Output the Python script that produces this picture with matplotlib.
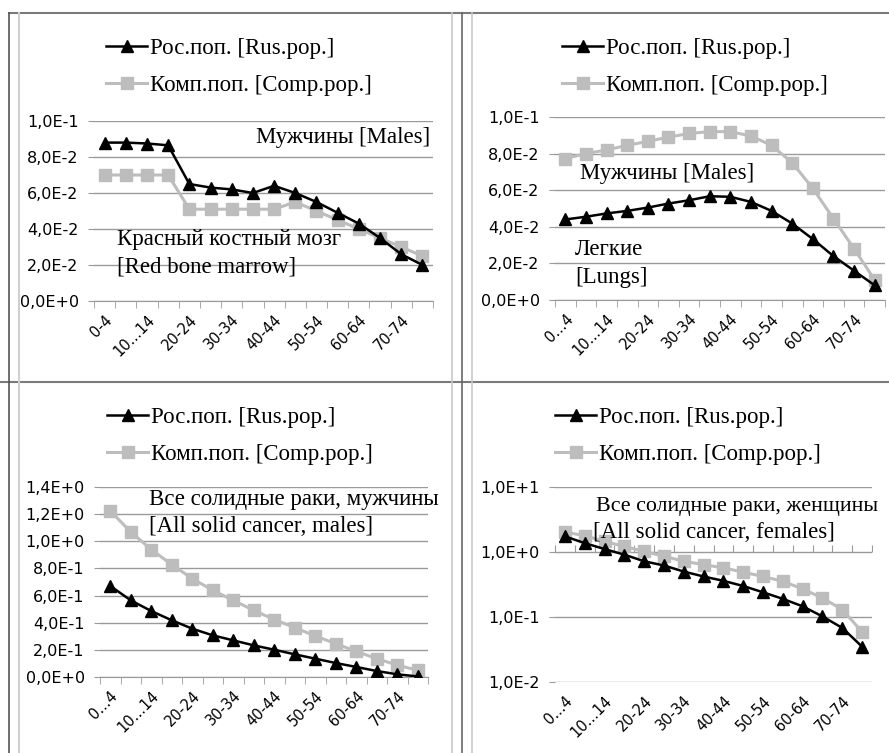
import numpy as np
import matplotlib
matplotlib.use("Agg")
import matplotlib.pyplot as plt
from matplotlib.lines import Line2D

# age groups (16), only every other label is shown on the axis
ages_a = ["0-4", "5-9", "10...14", "15-19", "20-24", "25-29", "30-34", "35-39",
          "40-44", "45-49", "50-54", "55-59", "60-64", "65-69", "70-74", "75-79"]
ages_b = ["0...4"] + ages_a[1:]

# red bone marrow, males
rbm_rus = [0.088, 0.088, 0.0875, 0.0865, 0.065, 0.063, 0.062, 0.060,
           0.064, 0.060, 0.055, 0.049, 0.043, 0.035, 0.026, 0.020]
rbm_comp = [0.070, 0.070, 0.070, 0.070, 0.051, 0.051, 0.051, 0.051,
            0.051, 0.055, 0.050, 0.045, 0.040, 0.035, 0.030, 0.025]

# lungs, males
lung_rus = [0.044, 0.0455, 0.0473, 0.0487, 0.0505, 0.0527, 0.0545, 0.0567,
            0.0564, 0.0536, 0.0487, 0.0418, 0.0333, 0.024, 0.016, 0.008]
lung_comp = [0.0773, 0.080, 0.082, 0.0845, 0.0867, 0.089, 0.091, 0.092,
             0.092, 0.0896, 0.0845, 0.075, 0.061, 0.0445, 0.028, 0.011]

# all solid cancer, males
sm_rus = [0.671, 0.565, 0.486, 0.418, 0.356, 0.307, 0.270, 0.233,
          0.201, 0.167, 0.135, 0.103, 0.074, 0.044, 0.020, 0.004]
sm_comp = [1.224, 1.069, 0.939, 0.828, 0.725, 0.639, 0.565, 0.491,
           0.423, 0.364, 0.302, 0.246, 0.189, 0.135, 0.088, 0.049]

# all solid cancer, females (log scale)
sf_rus = [1.74, 1.37, 1.11, 0.91, 0.72, 0.62, 0.50, 0.42,
          0.36, 0.30, 0.24, 0.19, 0.146, 0.102, 0.068, 0.035]
sf_comp = [2.03, 1.78, 1.46, 1.22, 1.02, 0.86, 0.72, 0.64,
           0.57, 0.49, 0.42, 0.354, 0.27, 0.196, 0.13, 0.059]

lin_ticks = [0, 0.02, 0.04, 0.06, 0.08, 0.10]
sm_ticks = [0, 0.2, 0.4, 0.6, 0.8, 1.0, 1.2, 1.4]
log_ticks = [1e-2, 1e-1, 1e0, 1e1]

rus_label = "Рос.поп. [Rus.pop.]"
comp_label = "Комп.поп. [Comp.pop.]"

SERIF = "Liberation Serif"
SANS = "DejaVu Sans"
GRID = "#9a9a9a"
LIGHT = "#bdbdbd"

W, H = 889, 753
fig = plt.figure(figsize=(W / 100, H / 100), dpi=100)


def px_axes(x0, y0, x1, y1):
    return fig.add_axes([x0 / W, 1 - y1 / H, (x1 - x0) / W, (y1 - y0) / H])


def excel_fmt(v):
    if v == 0:
        return "0,0E+0"
    e = int(np.floor(np.log10(abs(v)) + 1e-9))
    m = v / 10 ** e
    sign = "+" if e >= 0 else "-"
    return f"{m:.1f}".replace(".", ",") + f"E{sign}{abs(e)}"


def draw(ax, rus, comp, labels, yticks, log=False):
    x = np.arange(len(labels))
    ax.plot(x, comp, color=LIGHT, lw=2.2, marker="s", ms=8.5, zorder=3)
    ax.plot(x, rus, color="black", lw=1.8, marker="^", ms=8, zorder=4)
    ax.set_xlim(-0.5, len(labels) - 0.5)
    if log:
        ax.set_yscale("log")
    ax.set_ylim(yticks[0], yticks[-1])
    ax.set_yticks(yticks)
    ax.set_yticklabels([excel_fmt(v) for v in yticks], fontsize=11.5, family=SANS)
    ax.yaxis.set_minor_locator(matplotlib.ticker.NullLocator())
    ax.grid(axis="y", color=GRID, lw=1)
    ax.set_axisbelow(True)
    ax.tick_params(axis="y", length=4, color=GRID, pad=7)
    for s in ["left", "right", "top"]:
        ax.spines[s].set_visible(False)
    ax.set_xticks(x)
    ax.set_xticklabels([l if i % 2 == 0 else "" for i, l in enumerate(labels)],
                       rotation=45, ha="right", rotation_mode="anchor",
                       fontsize=10.5, family=SANS)
    ax.tick_params(axis="x", which="major", length=0, pad=8)
    bounds = np.arange(len(labels) + 1) - 0.5
    if log:
        ax.spines["bottom"].set_visible(False)
        sec = ax.secondary_xaxis(2 / 3)
        sec.set_xticks(bounds)
        sec.set_xticklabels([])
        sec.tick_params(length=5, color=GRID, direction="out")
        sec.spines["bottom"].set_color(GRID)
        sec.spines["top"].set_visible(False)
    else:
        ax.spines["bottom"].set_color(GRID)
        ax.set_xticks(bounds, minor=True)
        ax.tick_params(axis="x", which="minor", length=5, color=GRID)


def legend(ax, x, y):
    handles = [Line2D([], [], color="black", lw=1.8, marker="^", ms=8),
               Line2D([], [], color=LIGHT, lw=2.2, marker="s", ms=8.5)]
    ax.legend(handles, [rus_label, comp_label], loc="upper left",
              bbox_to_anchor=(x / W, 1 - y / H), bbox_transform=fig.transFigure,
              frameon=False, prop={"family": SERIF, "size": 16.5},
              handlelength=1.8, handletextpad=0.1, labelspacing=0.7,
              borderaxespad=0, borderpad=0)


def note(text, x, y, ha="left", size=16.5):
    fig.text(x / W, 1 - y / H, text, family=SERIF, fontsize=size, ha=ha, va="center")


ax1 = px_axes(94, 121, 433, 301)
draw(ax1, rbm_rus, rbm_comp, ages_a, lin_ticks)
legend(ax1, 106, 38)
note("Мужчины [Males]", 430, 138, ha="right")
note("Красный костный мозг", 117, 240)
note("[Red bone marrow]", 117, 267)

ax2 = px_axes(555, 117, 885, 300)
draw(ax2, lung_rus, lung_comp, ages_b, lin_ticks)
legend(ax2, 562, 38)
note("Мужчины [Males]", 580, 173)
note("Легкие", 575, 250)
note("[Lungs]", 575, 278)

ax3 = px_axes(100, 487, 428, 677)
draw(ax3, sm_rus, sm_comp, ages_b, sm_ticks)
legend(ax3, 107, 407)
note("Все солидные раки, мужчины", 149, 500)
note("[All solid cancer, males]", 149, 527)

ax4 = px_axes(555, 487, 872, 682)
draw(ax4, sf_rus, sf_comp, ages_b, log_ticks, log=True)
legend(ax4, 555, 407)
note("Все солидные раки, женщины", 596, 506, size=15.8)
note("[All solid cancer, females]", 593, 532)

# table frame lines around the panels
def hline(y, x0, x1, color, lw):
    fig.add_artist(Line2D([x0 / W, x1 / W], [1 - y / H, 1 - y / H],
                          color=color, lw=lw, transform=fig.transFigure))


def vline(x, y0, y1, color, lw):
    fig.add_artist(Line2D([x / W, x / W], [1 - y0 / H, 1 - y1 / H],
                          color=color, lw=lw, transform=fig.transFigure))


hline(13, 9, W, "#7a7a7a", 1.5)
hline(382, 0, W, "#7a7a7a", 1.5)
vline(9, 13, H, "#555555", 1.2)
vline(19, 13, H, "#d0d0d0", 1.5)
vline(452, 13, H, "#c8c8c8", 1.2)
vline(462, 13, H, "#666666", 1.2)
vline(472, 13, H, "#c8c8c8", 1.2)

fig.savefig("out.png", dpi=100)
